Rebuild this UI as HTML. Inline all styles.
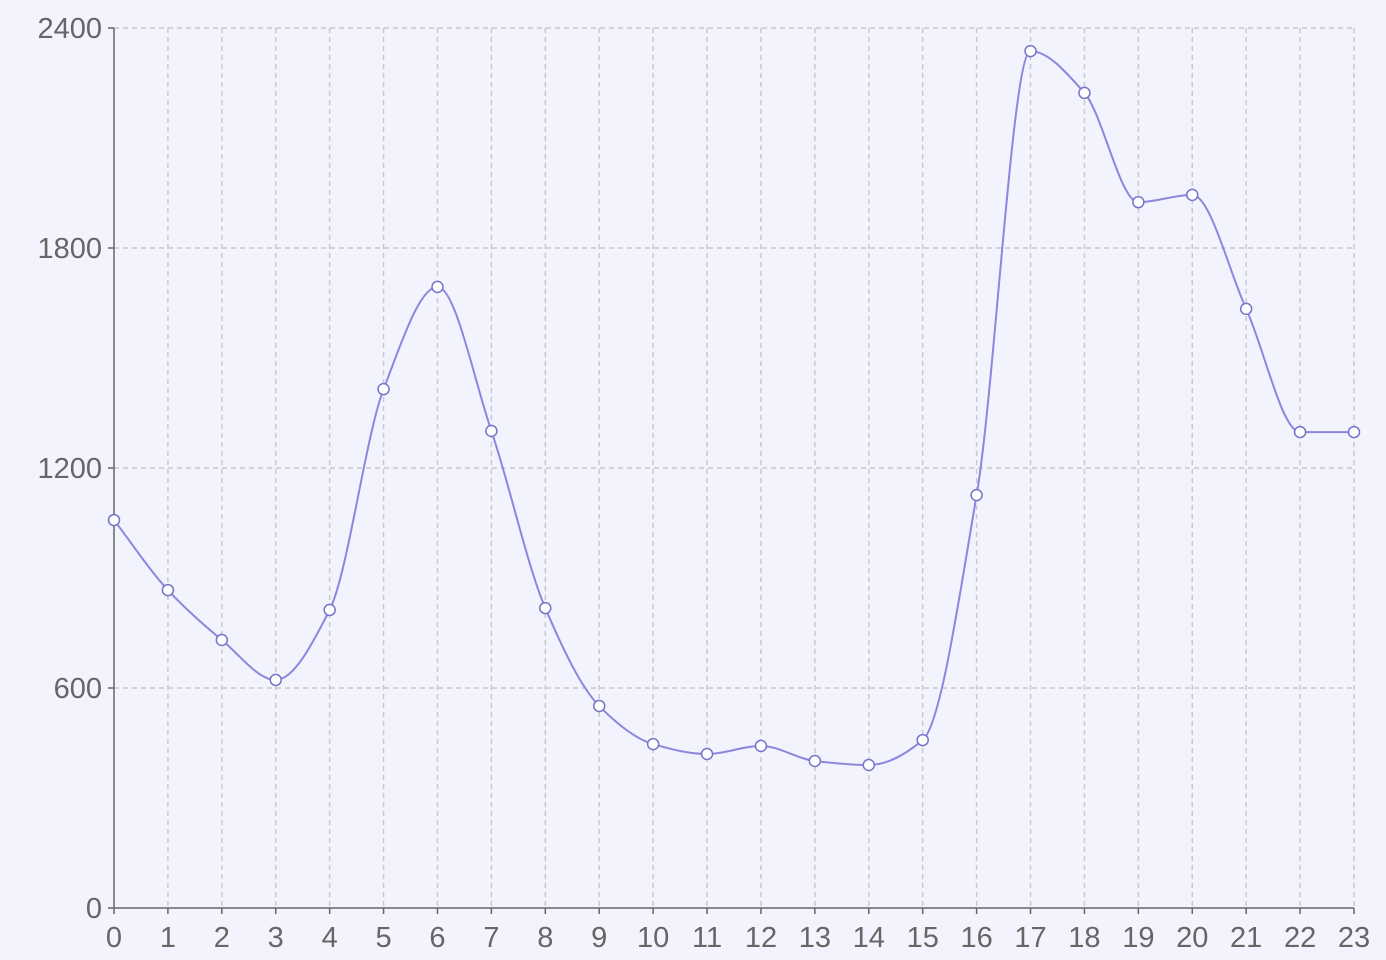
<!DOCTYPE html>
<html><head><meta charset="utf-8"><style>
html,body{margin:0;padding:0;background:#f3f3fd;}
svg{display:block;font-family:"Liberation Sans",sans-serif;}
</style></head><body>
<svg id="chart" width="1386" height="960" xmlns="http://www.w3.org/2000/svg">
<rect width="1386" height="960" fill="#f3f3fd"/>
<g id="grid"></g>
<g id="axes"></g>
<g id="series"></g>
</svg>
<script>
const categories = [0,1,2,3,4,5,6,7,8,9,10,11,12,13,14,15,16,17,18,19,20,21,22,23];
const values = [1058,867,731,622,813,1415,1694,1301,818,551,447,420,442,401,390,458,1126,2337,2223,1925,1945,1634,1298,1298];
const yTicks = [0,600,1200,1800,2400];

const NS='http://www.w3.org/2000/svg';
const X0=114,X1=1354,Y0=908,Y1=28,YMAX=2400;
function xs(i){return X0+(X1-X0)*i/(categories.length-1);}
function ys(v){return Y0-(Y0-Y1)*v/YMAX;}
function mk(tag,attrs,parent){const e=document.createElementNS(NS,tag);for(const k in attrs)e.setAttribute(k,attrs[k]);parent.appendChild(e);return e;}
const grid=document.getElementById('grid'),axes=document.getElementById('axes'),series=document.getElementById('series');

categories.forEach((c,i)=>{
  if(i>0){const l=mk('line',{x1:xs(i),x2:xs(i),y1:Y1,y2:Y0,stroke:'#c8c8d0','stroke-width':1.5,'stroke-dasharray':'5,4'},grid);
  
  }
  const tk=mk('line',{x1:xs(i),x2:xs(i),y1:Y0,y2:Y0+6,stroke:'#666','stroke-width':1.5},axes);
  
  
  const t=mk('text',{x:xs(i),y:Y0+39,'text-anchor':'middle','font-size':29,fill:'#666'},axes);
  t.textContent=c;
  
  
});
yTicks.forEach(v=>{
  if(v>0){const l=mk('line',{x1:X0,x2:X1,y1:ys(v),y2:ys(v),stroke:'#c8c8d0','stroke-width':1.5,'stroke-dasharray':'5,4'},grid);
  
  }
  const tk=mk('line',{x1:X0-6,x2:X0,y1:ys(v),y2:ys(v),stroke:'#666','stroke-width':1.5},axes);
  
  
  const t=mk('text',{x:X0-12,y:ys(v)+10,'text-anchor':'end','font-size':29,fill:'#666'},axes);
  t.textContent=v;
  
  
});
const ya=mk('line',{x1:X0,x2:X0,y1:Y1,y2:Y0,stroke:'#666','stroke-width':1.5},axes);


const xa=mk('line',{x1:X0,x2:X1,y1:Y0,y2:Y0,stroke:'#666','stroke-width':1.5},axes);



// monotone cubic interpolation
const pts=values.map((v,i)=>[xs(i),ys(v)]);
const n=pts.length;
const dx=[],sl=[];
for(let i=0;i<n-1;i++){dx.push(pts[i+1][0]-pts[i][0]);sl.push((pts[i+1][1]-pts[i][1])/dx[i]);}
const m=new Array(n);
m[0]=sl[0];m[n-1]=sl[n-2];
for(let i=1;i<n-1;i++){
  if(sl[i-1]*sl[i]<=0)m[i]=0;
  else m[i]=2/(1/sl[i-1]+1/sl[i]);
}
let d='M'+pts[0][0]+','+pts[0][1];
for(let i=0;i<n-1;i++){
  const h=dx[i]/3;
  d+=` C${pts[i][0]+h},${pts[i][1]+m[i]*h} ${pts[i+1][0]-h},${pts[i+1][1]-m[i+1]*h} ${pts[i+1][0]},${pts[i+1][1]}`;
}
const path=mk('path',{d:d,fill:'none',stroke:'#8b87dc','stroke-width':2},series);


pts.forEach(p=>{
  const c=mk('circle',{cx:p[0],cy:p[1],r:5.5,fill:'#fff',stroke:'#7873c8','stroke-width':1.5},series);
  
  
});
</script>
</body></html>
